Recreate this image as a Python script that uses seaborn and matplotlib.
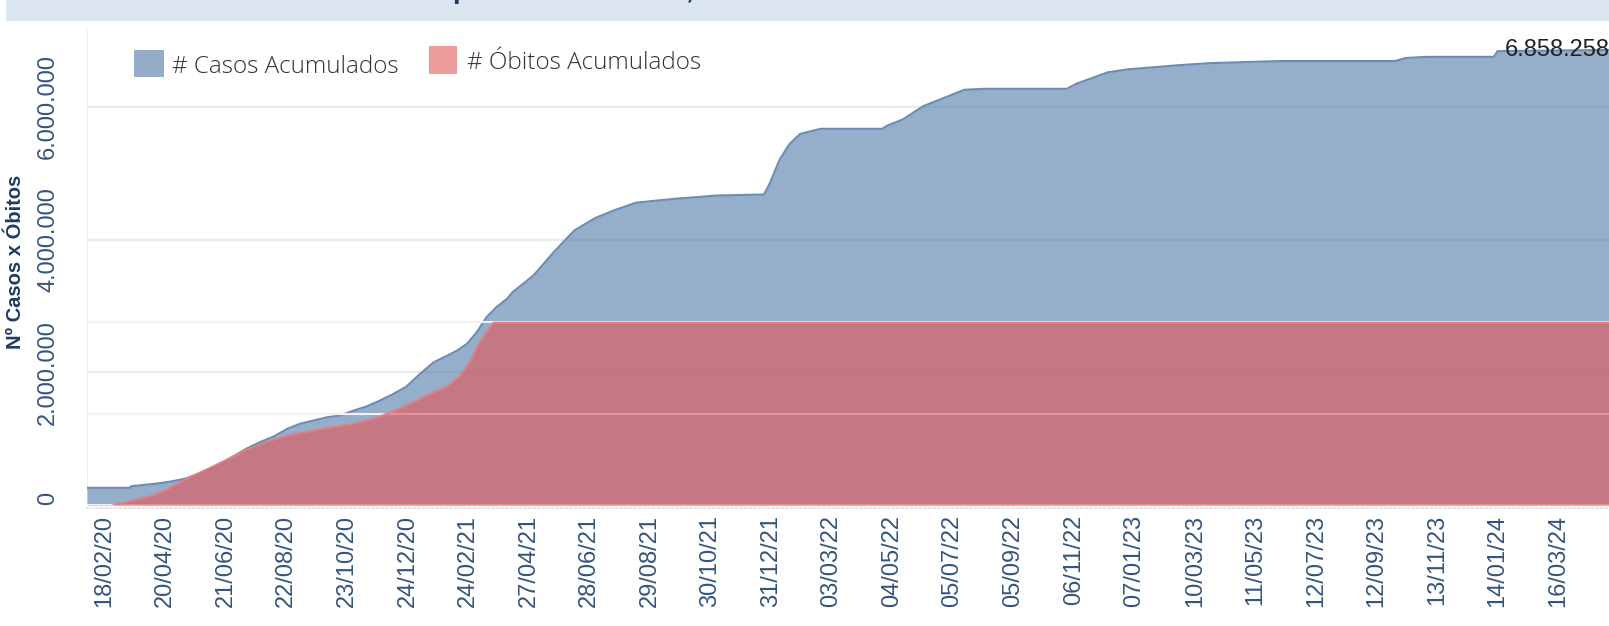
import pandas as pd
import numpy as np
import seaborn as sns
import matplotlib.pyplot as plt
import matplotlib.ticker as mticker
from matplotlib.patches import Rectangle

# -----------------------------------------------------
# Data
# -----------------------------------------------------

casos_datas = [
    "2020-01-31", "2020-03-15", "2020-03-16", "2020-04-10", "2020-04-24", "2020-05-05",
    "2020-05-12", "2020-05-29", "2020-06-15", "2020-07-02", "2020-07-12", "2020-07-26",
    "2020-08-09", "2020-08-23", "2020-09-05", "2020-09-19", "2020-10-03", "2020-10-16",
    "2020-10-30", "2020-11-12", "2020-11-26", "2020-12-10", "2020-12-23", "2021-01-06",
    "2021-01-20", "2021-02-03", "2021-02-13", "2021-02-23", "2021-03-05", "2021-03-15",
    "2021-03-25", "2021-04-05", "2021-04-11", "2021-05-02", "2021-05-23", "2021-06-13",
    "2021-07-04", "2021-07-25", "2021-08-15", "2021-09-05", "2021-09-26", "2021-11-07",
    "2021-12-24", "2021-12-30", "2022-01-09", "2022-01-19", "2022-01-30", "2022-02-20",
    "2022-04-24", "2022-04-29", "2022-05-15", "2022-06-05", "2022-06-26", "2022-07-17",
    "2022-08-07", "2022-10-30", "2022-11-09", "2022-12-11", "2023-01-01", "2023-02-22",
    "2023-03-26", "2023-06-08", "2023-10-01", "2023-10-12", "2023-11-02", "2024-01-10",
    "2024-01-14", "2024-05-07",
]
casos_valores = [
    259000, 259000, 283000, 320000, 350000, 380000,
    404000, 494000, 621000, 761000, 847000, 947000,
    1032000, 1148000, 1224000, 1274000, 1323000, 1349000,
    1424000, 1485000, 1575000, 1676000, 1786000, 1977000,
    2152000, 2253000, 2329000, 2430000, 2604000, 2830000,
    2981000, 3108000, 3212000, 3459000, 3815000, 4139000,
    4324000, 4449000, 4556000, 4588000, 4618000, 4665000,
    4680000, 4850000, 5206000, 5438000, 5593000, 5670000,
    5670000, 5717000, 5810000, 6011000, 6134000, 6258000,
    6273000, 6273000, 6351000, 6521000, 6567000, 6629000,
    6660000, 6692000, 6692000, 6737000, 6754000, 6754000,
    6840000, 6858258,
]

obitos_datas = [
    "2020-02-27", "2020-03-12", "2020-03-25", "2020-04-08", "2020-04-22", "2020-05-05",
    "2020-05-19", "2020-06-01", "2020-06-15", "2020-06-29", "2020-07-12", "2020-07-26",
    "2020-08-09", "2020-08-23", "2020-09-05", "2020-09-19", "2020-10-03", "2020-10-16",
    "2020-10-30", "2020-11-12", "2020-11-26", "2020-12-10", "2020-12-23", "2021-01-06",
    "2021-01-20", "2021-02-03", "2021-02-16", "2021-02-26", "2021-03-08", "2021-03-15",
    "2021-03-22", "2024-05-07",
]
obitos_valores = [
    0, 1530, 3400, 5200, 8330, 12490,
    16160, 19290, 22900, 26570, 30240, 33150,
    35720, 37910, 39340, 40820, 42080, 43170,
    44490, 46300, 48490, 51390, 54520, 58190,
    61800, 64930, 70950, 78240, 89200, 94680,
    99830, 99830,
]

tick_labels = [
    "18/02/20", "20/04/20", "21/06/20", "22/08/20", "23/10/20", "24/12/20",
    "24/02/21", "27/04/21", "28/06/21", "29/08/21", "30/10/21", "31/12/21",
    "03/03/22", "04/05/22", "05/07/22", "05/09/22", "06/11/22", "07/01/23",
    "10/03/23", "11/05/23", "12/07/23", "12/09/23", "13/11/23", "14/01/24",
    "16/03/24",
]
casos_ticks = [0, 2000000, 4000000, 6000000]
obitos_ticks = [0, 50000, 100000]

df_casos = pd.DataFrame({"data": pd.to_datetime(casos_datas), "valor": casos_valores})
df_obitos = pd.DataFrame({"data": pd.to_datetime(obitos_datas), "valor": obitos_valores})
tick_pos = pd.to_datetime(tick_labels, format="%d/%m/%y")

# -----------------------------------------------------
# Figure
# -----------------------------------------------------

sns.set_theme(style="white")
plt.rcParams["font.family"] = ["Liberation Sans", "DejaVu Sans"]

W, H = 1609, 626
fig = plt.figure(figsize=(W / 100, H / 100), dpi=100)

# banner (title is cut by the top edge, as in the source dashboard)
fig.patches.append(Rectangle((6 / W, 1 - 20.5 / H), 1, 20.5 / H, transform=fig.transFigure,
                             facecolor="#dce6f1", edgecolor="none", zorder=0))
fig.text(453 / W, 1 + 2 / H, "Casos e Óbitos Acumulados ", ha="right", va="baseline",
         fontsize=20, fontweight="bold", color="#1f3b63")
fig.text(453 / W, 1 + 2 / H, "por Data de Início, Estado de São Paulo", ha="left", va="baseline",
         fontsize=20, fontweight="bold", color="#1f3b63")

ax = fig.add_axes([87 / W, (H - 505) / H, (W - 87) / W, 476 / H])
ax2 = ax.twinx()

blue = "#4e79a7"
red = "#e15759"

ax.fill_between(df_casos["data"], df_casos["valor"], color=blue, alpha=0.6, lw=0)
sns.lineplot(data=df_casos, x="data", y="valor", ax=ax, color="#6a8cb5", lw=1.5)

ax2.fill_between(df_obitos["data"], df_obitos["valor"], color=red, alpha=0.62, lw=0)
sns.lineplot(data=df_obitos, x="data", y="valor", ax=ax2, color="#e47d80", lw=1.5)

ax.set_xlim(pd.Timestamp("2020-01-31"), pd.Timestamp("2024-05-07"))
ax.set_ylim(0, 7174000)
ax2.set_ylim(0, 260800)

# gridlines
ax.set_axisbelow(True)
ax.set_yticks(casos_ticks)
ax.yaxis.grid(True, color="#ebebeb", lw=1.5)
ax.xaxis.grid(False)
ax2.set_yticks(obitos_ticks)
ax2.yaxis.grid(True, color="#f1f1f1", lw=1.5)
ax2.xaxis.grid(False)
ax2.tick_params(axis="y", right=False, labelright=False, length=0)
ax2.set_ylabel("")

ax.yaxis.set_major_formatter(mticker.FuncFormatter(lambda v, p: f"{int(v):,}".replace(",", ".")))
ax.tick_params(axis="y", length=0, pad=20, labelsize=17, labelcolor="#34557f", labelrotation=90)
for lab in ax.get_yticklabels():
    lab.set_va("center")
ax.get_yticklabels()[0].set_va("bottom")

ax.set_xticks(tick_pos)
ax.xaxis.set_major_formatter(mticker.FixedFormatter(tick_labels))
ax.tick_params(axis="x", length=0, pad=5, labelsize=17, labelcolor="#34557f", labelrotation=90)
ax.set_xlabel("")
ax.set_ylabel("")

for a in (ax, ax2):
    for s in ("top", "right", "left", "bottom"):
        a.spines[s].set_visible(False)
ax.axvline(ax.get_xlim()[0], color="#eeeeee", lw=1.2, zorder=0)
ax.spines["bottom"].set_visible(True)
ax.spines["bottom"].set_color("#e2e2e2")
ax.spines["bottom"].set_linestyle(":")
ax.spines["bottom"].set_position(("outward", 2))

fig.text(16 / W, 1 - 262 / H, "Nº Casos x Óbitos", rotation=90, ha="center", va="center",
         fontsize=14.5, fontweight="bold", color="#1f3b63")

# legend
fig.patches.append(Rectangle((134 / W, 1 - 77 / H), 30 / W, 27 / H, transform=fig.transFigure,
                             facecolor="#94adc8", edgecolor="none"))
fig.text(172 / W, 1 - 67 / H, "# Casos Acumulados", ha="left", va="center",
         fontsize=17.5, color="#333333", family=["Open Sans", "DejaVu Sans"], fontweight="light")
fig.patches.append(Rectangle((429 / W, 1 - 74 / H), 28 / W, 28 / H, transform=fig.transFigure,
                             facecolor="#ed9a9b", edgecolor="none"))
fig.text(467 / W, 1 - 63 / H, "# Óbitos Acumulados", ha="left", va="center",
         fontsize=17.5, color="#333333", family=["Open Sans", "DejaVu Sans"], fontweight="light")

# final value label
fig.text(1505 / W, 1 - 50 / H, "6.858.258", ha="left", va="center", fontsize=17, color="#222222")

fig.savefig("out.png", dpi=100)
